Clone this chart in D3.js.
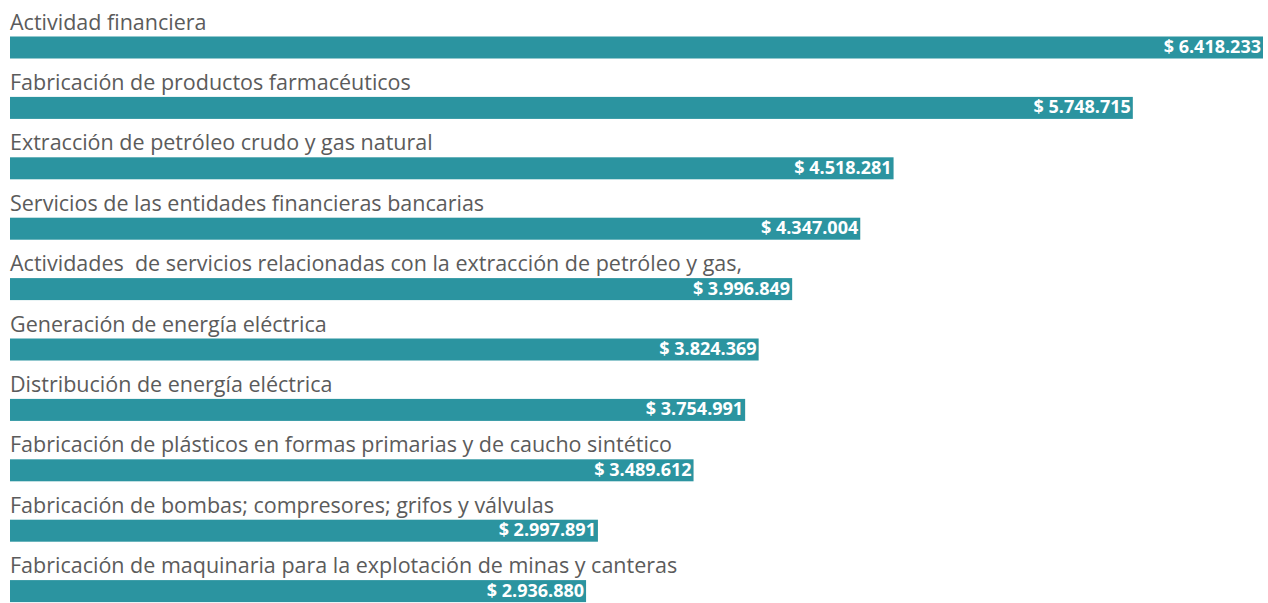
<!DOCTYPE html>
<html>
<head>
<meta charset="utf-8">
<script src="https://cdn.jsdelivr.net/npm/d3@7/dist/d3.min.js"></script>
<style>
  body { margin: 0; background: #fff; }
  svg { display: block; }
  .cat { font-family: "Open Sans", sans-serif; font-size: 21.5px; fill: #5b5b5b; white-space: pre; }
  .val { font-family: "Open Sans", sans-serif; font-size: 18px; font-weight: 700; fill: #fff; }
</style>
</head>
<body>
<svg id="chart" width="1268" height="603"></svg>
<script>
const categories = [
  "Actividad financiera",
  "Fabricación de productos farmacéuticos",
  "Extracción de petróleo crudo y gas natural",
  "Servicios de las entidades financieras bancarias",
  "Actividades  de servicios relacionadas con la extracción de petróleo y gas,",
  "Generación de energía eléctrica",
  "Distribución de energía eléctrica",
  "Fabricación de plásticos en formas primarias y de caucho sintético",
  "Fabricación de bombas; compresores; grifos y válvulas",
  "Fabricación de maquinaria para la explotación de minas y canteras"
]
const values = [6418233, 5748715, 4518281, 4347004, 3996849, 3824369, 3754991, 3489612, 2997891, 2936880]

const svg = d3.select("#chart")
const barH = 22
const left = 10

const locale = d3.formatLocale({decimal: ",", thousands: ".", grouping: [3], currency: ["$", ""]})
const fmt = locale.format(",d")

// bars laid out on a band scale, one row = label + bar
const y = d3.scaleBand()
    .domain(categories)
    .range([36.5, 36.5 + 60.4 * categories.length])

const x = d3.scaleLinear()
    .domain([0, d3.max(values)])
    .range([15, 1263])

const rows = svg.selectAll("g.row")
  .data(categories)
  .join("g")
    .attr("class", "row")
    .attr("transform", d => `translate(0, ${y(d)})`)

rows.append("text")
    .attr("class", "cat")
    .attr("x", left)
    .attr("y", -7)
    .text(d => d)

rows.append("rect")
    .attr("x", left)
    .attr("y", 0)
    .attr("height", barH)
    .attr("width", (d, i) => x(values[i]) - left)
    .attr("fill", "#2b94a0")

rows.append("text")
    .attr("class", "val")
    .attr("x", (d, i) => x(values[i]) - 2)
    .attr("y", barH / 2)
    .attr("dy", "0.3em")
    .attr("text-anchor", "end")
    .text((d, i) => "$ " + fmt(values[i]))
</script>
</body>
</html>
